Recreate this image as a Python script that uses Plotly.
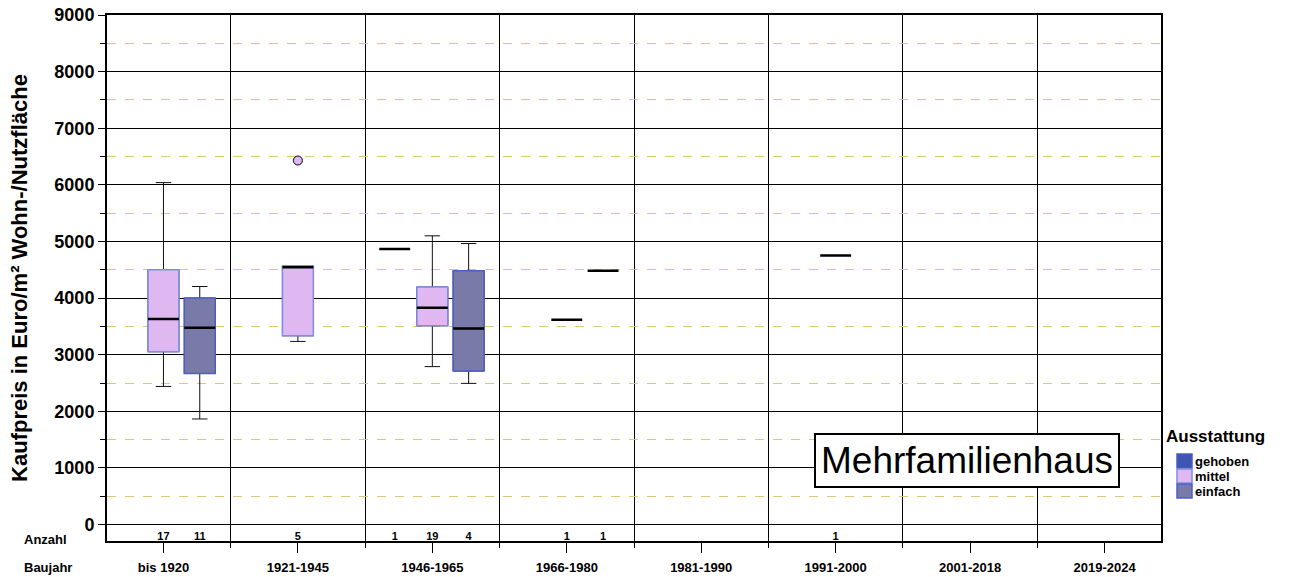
import plotly.graph_objects as go

categories = ["bis 1920", "1921-1945", "1946-1965", "1966-1980",
              "1981-1990", "1991-2000", "2001-2018", "2019-2024"]
groups = ["gehoben", "mittel", "einfach"]

# statistics per group: category index -> (lowerfence, q1, median, q3, upperfence, n)
gehoben_cat = [2]
gehoben_lf = [4865]
gehoben_q1 = [4865]
gehoben_med = [4865]
gehoben_q3 = [4865]
gehoben_uf = [4865]
gehoben_n = [1]

mittel_cat = [0, 1, 2, 3, 5]
mittel_lf = [2440, 3235, 2790, 3617, 4753]
mittel_q1 = [3053, 3335, 3512, 3617, 4753]
mittel_med = [3630, 4545, 3830, 3617, 4753]
mittel_q3 = [4500, 4570, 4195, 3617, 4753]
mittel_uf = [6040, 4575, 5100, 3617, 4753]
mittel_n = [17, 5, 19, 1, 1]

einfach_cat = [0, 2, 3]
einfach_lf = [1865, 2494, 4482]
einfach_q1 = [2670, 2712, 4482]
einfach_med = [3476, 3465, 4482]
einfach_q3 = [4000, 4482, 4482]
einfach_uf = [4205, 4964, 4482]
einfach_n = [11, 4, 1]

outlier_cat = [1]
outlier_group = ["mittel"]
outlier_val = [6430]

y_ticks = list(range(0, 9001, 1000))

data = {
    "gehoben": (gehoben_cat, gehoben_lf, gehoben_q1, gehoben_med, gehoben_q3, gehoben_uf, gehoben_n),
    "mittel": (mittel_cat, mittel_lf, mittel_q1, mittel_med, mittel_q3, mittel_uf, mittel_n),
    "einfach": (einfach_cat, einfach_lf, einfach_q1, einfach_med, einfach_q3, einfach_uf, einfach_n),
}

offset = {"gehoben": -0.28, "mittel": 0.0, "einfach": 0.27}
fill = {"gehoben": "#3f55b2", "mittel": "#dfb8f2", "einfach": "#7a7aa8"}
edge = {"gehoben": "#4a5cc0", "mittel": "#7d8ddd", "einfach": "#4e5fc2"}
BW = 0.23
FONT = "Arial, Liberation Sans, sans-serif"

# plot area in page pixels (used to place page-anchored labels)
L, R, T, B = 107, 128, 15, 36
W, H = 1289, 577
PW, PH = W - L - R, H - T - B


def px(x):
    return (x - L) / PW


def py(y):
    return (H - B - y) / PH


fig = go.Figure()

for g in groups:
    cat, lf, q1, med, q3, uf, n = data[g]
    xs = [c + offset[g] for c in cat]
    idx = [i for i in range(len(cat)) if n[i] > 1]
    if idx:
        # whiskers (black)
        fig.add_trace(go.Box(
            x=[xs[i] for i in idx], q1=[q1[i] for i in idx], median=[med[i] for i in idx],
            q3=[q3[i] for i in idx], lowerfence=[lf[i] for i in idx], upperfence=[uf[i] for i in idx],
            width=BW, whiskerwidth=0.5, fillcolor="rgba(0,0,0,0)",
            line=dict(color="#111111", width=1), showlegend=False, hoverinfo="skip"))
        # box body
        fig.add_trace(go.Box(
            x=[xs[i] for i in idx], q1=[q1[i] for i in idx], median=[med[i] for i in idx],
            q3=[q3[i] for i in idx], lowerfence=[q1[i] for i in idx], upperfence=[q3[i] for i in idx],
            width=BW, whiskerwidth=0, fillcolor=fill[g],
            line=dict(color=edge[g], width=1.5), showlegend=False, hoverinfo="skip"))
    # median line (black, thick)
    fig.add_trace(go.Box(
        x=xs, q1=med, median=med, q3=med, lowerfence=med, upperfence=med,
        width=BW, whiskerwidth=0, fillcolor="rgba(0,0,0,0)",
        line=dict(color="#000000", width=2.5), showlegend=False, hoverinfo="skip"))
    # counts
    fig.add_trace(go.Scatter(
        x=xs, y=[-215] * len(xs), mode="text", text=[f"<b>{v}</b>" for v in n],
        textfont=dict(family=FONT, size=11, color="#000"), showlegend=False, hoverinfo="skip"))

# outliers
fig.add_trace(go.Scatter(
    x=[c + offset[g] for c, g in zip(outlier_cat, outlier_group)], y=outlier_val,
    mode="markers", marker=dict(symbol="circle", size=9, color=fill["mittel"],
                                line=dict(color="#000", width=1)),
    showlegend=False, hoverinfo="skip"))

# Mehrfamilienhaus label
fig.add_annotation(xref="paper", yref="paper", x=px(967), y=py(460), xanchor="center", yanchor="middle",
                   text="Mehrfamilienhaus", showarrow=False,
                   font=dict(family=FONT, size=37, color="#000"),
                   bordercolor="#000", borderwidth=2, borderpad=5, bgcolor="#fff")
fig.add_annotation(xref="paper", yref="paper", x=px(45), y=py(539),
                   xanchor="center", yanchor="middle", text="<b>Anzahl</b>", showarrow=False,
                   font=dict(family=FONT, size=13, color="#000"))
fig.add_annotation(xref="paper", yref="paper", x=px(48), y=py(567),
                   xanchor="center", yanchor="middle", text="<b>Baujahr</b>", showarrow=False,
                   font=dict(family=FONT, size=13, color="#000"))

# manual legend
fig.add_annotation(xref="paper", yref="paper", x=px(1164), y=py(436),
                   xanchor="left", yanchor="middle", text="<b>Ausstattung</b>", showarrow=False,
                   font=dict(family=FONT, size=17, color="#000"))
for k, g in enumerate(groups):
    cy = 461 + 15 * k
    fig.add_shape(type="rect", xref="paper", yref="paper",
                  x0=px(1177), x1=px(1192), y0=py(cy + 7), y1=py(cy - 7),
                  fillcolor=fill[g], line=dict(color=edge[g], width=1.5))
    fig.add_annotation(xref="paper", yref="paper", x=px(1193), y=py(cy),
                       xanchor="left", yanchor="middle", text=f"<b>{g}</b>", showarrow=False,
                       font=dict(family=FONT, size=13, color="#000"))

fig.update_layout(
    width=W, height=H,
    margin=dict(l=L, r=R, t=T, b=B),
    paper_bgcolor="#fff", plot_bgcolor="#fff",
    boxmode="overlay",
    font=dict(family=FONT, color="#000"),
    showlegend=False,
    xaxis=dict(range=[-0.42, 7.42], tickmode="array", tickvals=list(range(len(categories))),
               ticktext=[f"<b>{c}</b>" for c in categories],
               tickfont=dict(family=FONT, size=13), ticks="outside", ticklen=10,
               tickcolor="#000", ticklabelstandoff=4, automargin=False,
               showgrid=False, zeroline=False, showline=True, linecolor="#000", linewidth=1.5,
               mirror=True,
               minor=dict(tick0=0.5, dtick=1, showgrid=True, gridcolor="#000", gridwidth=1,
                          ticks="outside", ticklen=5, tickcolor="#000")),
    yaxis=dict(range=[-290, 9000], tickmode="array", tickvals=y_ticks,
               ticktext=[f"<b>{v}</b>" for v in y_ticks], automargin=False,
               tickfont=dict(family=FONT, size=18), ticks="outside", ticklen=7, tickcolor="#000",
               showgrid=True, gridcolor="#000", gridwidth=1,
               zeroline=True, zerolinecolor="#000", zerolinewidth=1,
               showline=True, linecolor="#000", linewidth=2, mirror=True,
               title=dict(text="<b>Kaufpreis in Euro/m² Wohn-/Nutzfläche</b>",
                          font=dict(family=FONT, size=22), standoff=21),
               minor=dict(tick0=500, dtick=1000, showgrid=True, gridcolor="#d6c978",
                          griddash="dash", gridwidth=1, ticks="outside", ticklen=5,
                          tickcolor="#000")),
)

fig.write_html("out.html")
